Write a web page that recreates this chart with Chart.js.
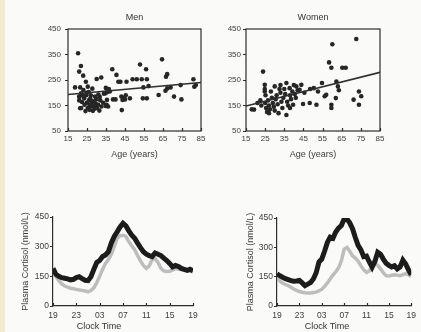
<!DOCTYPE html>
<html>
<head>
<meta charset="utf-8">
<script src="https://cdn.jsdelivr.net/npm/chart.js@4"></script>
<style>
  body { margin: 0; background: #fafaf8; }
  #page { position: relative; width: 421px; height: 332px; overflow: hidden; background: #fafaf8; }
  #strip { position: absolute; left: 0; top: 0; width: 5px; height: 332px; background: #f1ecd0; }
  canvas { position: absolute; }
</style>
</head>
<body>
<div id="page">
  <div id="strip"></div>
  <canvas id="men" width="210" height="170" style="left:0;top:0"></canvas>
  <canvas id="women" width="211" height="170" style="left:210px;top:0"></canvas>
  <canvas id="leftDay" width="210" height="162" style="left:0;top:170px"></canvas>
  <canvas id="rightDay" width="211" height="162" style="left:210px;top:170px"></canvas>
</div>
<script>
"use strict";

// scatter: age (years) vs plasma cortisol
const menAge = [20.3, 21.8, 20.9, 23.0, 18.7, 21.4, 20.9, 21.4, 20.9, 24.4, 24.8, 21.9, 24.6, 26.7, 22.4, 24.9,
  28.1, 29.9, 31.7, 30.8, 33.5, 27.2, 25.4, 29.0, 26.3, 32.6, 35.3, 23.7, 25.9, 27.8, 30.1, 32.5, 34.9, 35.6,
  36.1, 21.9, 29.5, 24.2, 26.3, 28.1, 31.0, 33.9, 21.0, 23.1, 25.4, 27.5, 28.8, 30.2, 31.5, 26.0, 23.5, 22.6,
  27.0, 29.2, 32.0, 34.8, 35.5, 34.8, 38.3, 40.5, 38.7, 41.5, 42.6, 40.0, 43.1, 43.3, 43.7, 44.5, 45.4, 45.0,
  45.8, 47.6, 49.0, 51.2, 52.9, 53.8, 54.7, 54.4, 56.1, 56.5, 56.5, 57.4, 64.5, 62.7, 66.6, 67.2, 67.2, 66.3,
  69.0, 70.8, 74.7, 74.3, 81.0, 82.3, 81.5, 37.0, 36.5];
const menCortisol = [355, 305, 283, 267, 221, 221, 185, 139, 170, 243, 200, 198, 190, 177, 164, 161,
  166, 175, 184, 153, 161, 146, 140, 137, 153, 146, 153, 153, 203, 216, 254, 260, 219, 203,
  146, 140, 159, 128, 133, 129, 193, 196, 184, 211, 224, 160, 150, 140, 130, 170, 178, 190,
  190, 185, 170, 198, 172, 148, 292, 270, 174, 243, 243, 174, 185, 132, 172, 179, 190, 174,
  243, 178, 253, 253, 311, 253, 221, 178, 292, 253, 178, 226, 331, 191, 263, 273, 217, 208,
  221, 185, 174, 230, 253, 230, 224, 205, 215];

const womenAge = [23.9, 72.6, 60.1, 58.4, 59.6, 65.3, 67.1, 19.2, 18.0, 21.0, 22.5, 23.0, 24.8, 24.8, 24.8,
  25.2, 25.5, 26.0, 26.5, 27.0, 27.5, 28.0, 28.5, 29.0, 29.5, 30.0, 30.5, 31.0, 31.5, 32.0, 32.5, 33.0, 33.5,
  34.0, 34.5, 35.0, 35.5, 36.1, 36.1, 36.5, 37.0, 37.8, 38.0, 38.5, 39.2, 39.6, 40.0, 40.5, 41.3, 42.0, 43.0,
  43.9, 44.8, 45.5, 48.3, 48.5, 50.4, 51.8, 52.6, 54.7, 56.1, 56.9, 59.6, 59.6, 62.2, 63.0, 61.9, 63.5, 71.2,
  74.0, 74.0, 75.2, 30.0, 27.0, 25.0, 33.0, 38.0, 41.0];
const womenCortisol = [283, 411, 390, 319, 298, 298, 298, 134, 135, 160, 170, 150, 231, 205, 215,
  190, 140, 125, 170, 150, 135, 205, 180, 160, 145, 130, 175, 190, 155, 120, 215, 200, 165,
  140, 180, 215, 195, 238, 113, 165, 150, 218, 190, 175, 205, 153, 230, 195, 225, 210, 212,
  231, 156, 200, 160, 215, 218, 153, 205, 238, 186, 192, 153, 140, 244, 225, 179, 210, 173,
  153, 205, 186, 225, 120, 160, 230, 140, 180];

// regression lines, value at age 15 and age 85
const fitAges = [15, 85];
const menFit = [193, 240];
const womenFit = [148, 280];

// 24 h profiles, hours after 19:00
const hours = [0, 0.5, 1, 1.5, 2, 2.5, 3, 3.5, 4, 4.5, 5, 5.5, 6, 6.5, 7, 7.5, 8, 8.5, 9, 9.5, 10, 10.5,
  11, 11.5, 12, 12.5, 13, 13.5, 14, 14.5, 15, 15.5, 16, 16.5, 17, 17.5, 18, 18.5, 19, 19.5, 20, 20.5,
  21, 21.5, 22, 22.5, 23, 23.5, 24];
const clockLabels = ['19', '23', '03', '07', '11', '15', '19'];

const leftBlack = [190, 160, 150, 143, 140, 137, 132, 135, 144, 148, 138, 130, 128, 148, 185, 220, 230, 250,
  258, 275, 319, 352, 375, 400, 418, 405, 380, 358, 343, 318, 295, 274, 262, 255, 250, 268, 262, 255,
  242, 230, 215, 198, 205, 200, 190, 185, 180, 186, 178];
const leftGray = [181, 150, 128, 112, 101, 95, 90, 87, 84, 81, 79, 76, 72, 78, 92, 118, 150, 185,
  215, 235, 262, 300, 343, 356, 358, 352, 325, 305, 285, 255, 228, 205, 190, 203, 235, 240, 220, 190,
  178, 174, 175, 182, 190, 187, 185, 182, 178, 176, 173];
const rightBlack = [165, 155, 147, 140, 135, 130, 127, 128, 131, 118, 104, 112, 120, 138, 170, 225, 240, 280,
  325, 352, 346, 378, 398, 412, 445, 445, 425, 395, 350, 310, 287, 252, 255, 225, 198, 228, 275, 265,
  240, 219, 208, 200, 206, 190, 200, 235, 215, 185, 160];
const rightGray = [143, 128, 117, 110, 104, 96, 87, 80, 74, 70, 68, 67, 67, 69, 71, 78, 85, 100,
  118, 138, 158, 175, 195, 230, 290, 300, 280, 256, 245, 230, 205, 185, 172, 180, 200, 219, 208, 190,
  170, 155, 153, 157, 160, 158, 155, 160, 166, 160, 150];

const ink = '#2e2e2e';
const family = "'Liberation Sans Narrow', 'Liberation Sans', Arial, sans-serif";
Chart.defaults.font.family = family;
Chart.defaults.color = '#3c3c3c';

// box round the plot, short x ticks pointing into it, titles placed by hand
const frame = {
  id: 'frame',
  afterDraw(chart, args, opts) {
    const ctx = chart.ctx;
    const a = chart.chartArea;
    const x = chart.scales.x;
    ctx.save();
    ctx.strokeStyle = ink;
    ctx.lineWidth = 1.2;
    if (opts.box) ctx.strokeRect(a.left, a.top, a.right - a.left, a.bottom - a.top);
    x.ticks.forEach((t) => {
      const px = Math.round(x.getPixelForValue(t.value)) + 0.5;
      ctx.beginPath();
      ctx.moveTo(px, a.bottom);
      ctx.lineTo(px, a.bottom - 3);
      ctx.stroke();
    });
    ctx.fillStyle = '#333';
    ctx.textAlign = 'center';
    ctx.textBaseline = 'middle';
    if (opts.title) {
      ctx.font = '9px ' + family;
      ctx.fillText(opts.title, (a.left + a.right) / 2, a.top - 11);
    }
    if (opts.xTitle) {
      ctx.font = '9px ' + family;
      ctx.fillText(opts.xTitle, opts.xTitleX, opts.xTitleY);
    }
    ctx.restore();
  }
};

function points(xs, ys) {
  return xs.map((v, i) => ({ x: v, y: ys[i] }));
}

function scatterChart(id, title, ages, vals, fit, pad, yWidth, tickPad) {
  return new Chart(document.getElementById(id), {
    type: 'scatter',
    data: {
      datasets: [{
        data: points(fitAges, fit),
        showLine: true,
        borderColor: ink,
        borderWidth: 1.6,
        pointRadius: 0
      }, {
        data: points(ages, vals),
        backgroundColor: '#262626',
        borderWidth: 0,
        pointRadius: 2.3
      }]
    },
    options: {
      responsive: false,
      animation: false,
      devicePixelRatio: 1,
      layout: { padding: pad },
      plugins: {
        legend: { display: false },
        tooltip: { enabled: false },
        frame: { box: true, title: title }
      },
      scales: {
        x: {
          type: 'linear', min: 15, max: 85,
          afterFit: (s) => { s.height = 30; },
          grid: { display: false, drawTicks: false },
          border: { display: false },
          ticks: { stepSize: 10, padding: 3, font: { size: 8 } },
          title: { display: true, text: 'Age (years)', font: { size: 9 }, padding: { top: 0, bottom: 1 } }
        },
        y: {
          min: 50, max: 450,
          afterFit: (s) => { s.width = yWidth; },
          grid: { drawOnChartArea: false, drawTicks: true, tickLength: 3, color: ink },
          border: { display: false },
          ticks: { stepSize: 100, padding: tickPad, font: { size: 8 } }
        }
      }
    },
    plugins: [frame]
  });
}

function dayChart(id, black, gray, pad, yWidth, titleX) {
  return new Chart(document.getElementById(id), {
    type: 'line',
    data: {
      datasets: [{
        data: points(hours, black),
        borderColor: '#1c1c1c',
        borderWidth: 5,
        pointRadius: 0,
        tension: 0
      }, {
        data: points(hours, gray),
        borderColor: '#bdbdbd',
        borderWidth: 3.5,
        pointRadius: 0,
        tension: 0
      }]
    },
    options: {
      responsive: false,
      animation: false,
      devicePixelRatio: 1,
      layout: { padding: pad },
      plugins: {
        legend: { display: false },
        tooltip: { enabled: false },
        frame: { box: false, xTitle: 'Clock Time', xTitleX: titleX, xTitleY: 157 }
      },
      scales: {
        x: {
          type: 'linear', min: 0, max: 24,
          afterFit: (s) => { s.height = 26; },
          grid: { display: false, drawTicks: false },
          border: { display: true, color: ink, width: 1.2 },
          ticks: { stepSize: 4, padding: 5, font: { size: 8.5 }, callback: (v) => clockLabels[v / 4] }
        },
        y: {
          min: 0, max: 450,
          afterFit: (s) => { s.width = yWidth; },
          grid: { drawOnChartArea: false, drawTicks: true, tickLength: 3, color: ink },
          border: { display: true, color: ink, width: 1.2 },
          ticks: { stepSize: 150, padding: 1, font: { size: 8.5 } },
          title: { display: true, text: 'Plasma Cortisol (nmol/L)', font: { size: 9 }, padding: { top: 5, bottom: 0 } }
        }
      }
    },
    plugins: [frame]
  });
}

scatterChart('men', 'Men', menAge, menCortisol, menFit, { left: 18, right: 9, top: 29, bottom: 9 }, 50, 4);
scatterChart('women', 'Women', womenAge, womenCortisol, womenFit, { left: 6, right: 41, top: 29, bottom: 9 }, 30, 2);
dayChart('leftDay', leftBlack, leftGray, { left: 15, right: 17, top: 47, bottom: 0 }, 38, 99);
dayChart('rightDay', rightBlack, rightGray, { left: 30, right: 7, top: 48, bottom: 0 }, 37, 117);
</script>
</body>
</html>
